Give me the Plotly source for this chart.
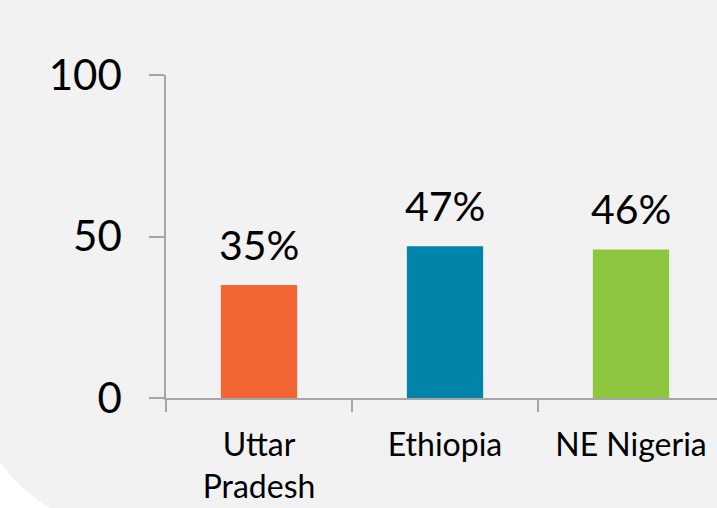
import plotly.graph_objects as go

categories = ["Uttar<br>Pradesh", "Ethiopia", "NE Nigeria"]
values = [35, 47, 46]
labels = ["35%", "47%", "46%"]
colors = ["#F36633", "#0084A9", "#8DC63F"]
y_ticks = [0, 50, 100]

W, H = 717, 508
ml, mt, mb, mr = 166, 75, 110, 0
pw, ph = W - ml - mr, H - mt - mb
cat_px = 186.0
font = "Lato"

fig = go.Figure()
fig.add_trace(go.Bar(
    x=categories, y=values, marker=dict(color=colors, line=dict(width=0)),
    width=0.41, hoverinfo="skip",
))
for c, v, t in zip(categories, values, labels):
    fig.add_annotation(x=c, y=v, text=t, showarrow=False, yanchor="bottom",
                       yshift=14, font=dict(family=font, size=41, color="#000"))

def px(x):
    return (x - ml) / pw

def py(y):
    return (H - mb - y) / ph

path = "M {},{} Q {},{} {},{} L {},{} Z".format(
    px(0), py(462), px(22), py(492), px(50), py(508), px(0), py(508))
fig.add_shape(type="path", path=path, xref="paper", yref="paper",
              fillcolor="white", line=dict(width=0), layer="below")

fig.update_layout(
    width=W, height=H, margin=dict(l=ml, r=mr, t=mt, b=mb),
    paper_bgcolor="#f2f2f2", plot_bgcolor="rgba(0,0,0,0)",
    showlegend=False, font=dict(family=font, color="#000"),
)
fig.update_xaxes(
    type="category", range=[-0.5, -0.5 + pw / cat_px],
    showline=True, linecolor="#a6a6a6", linewidth=1.5,
    ticks="outside", ticklen=12, tickcolor="#a6a6a6", tickwidth=1.5,
    tickson="boundaries", showgrid=False, zeroline=False,
    tickfont=dict(family=font, size=32, color="#000"), ticklabelstandoff=18,
)
fig.update_yaxes(
    range=[0, 100], tickvals=y_ticks, showline=True, linecolor="#a6a6a6",
    linewidth=1.5, ticks="outside", ticklen=15, tickcolor="#a6a6a6",
    tickwidth=1.5, showgrid=False, zeroline=False,
    tickfont=dict(family=font, size=42, color="#000"), ticklabelstandoff=19,
)
fig.write_html("out.html", config={"displayModeBar": False},
               post_script="document.body.style.margin='0';document.body.style.overflow='hidden';")
